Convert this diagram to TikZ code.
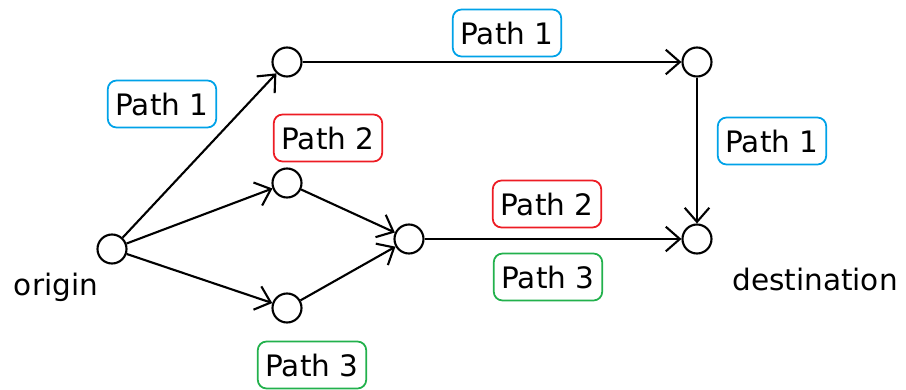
\documentclass[tikz,border=0pt]{standalone}
\usepackage{fontspec}
\setmainfont{DejaVu Sans}
\usetikzlibrary{arrows.meta}
\definecolor{bleu}{RGB}{0,162,232}
\definecolor{rouge}{RGB}{237,28,36}
\definecolor{vert}{RGB}{34,177,76}
\begin{document}
\begin{tikzpicture}[
	noeud/.style={draw, circle, line width=0.6pt, minimum size=0.29cm, inner sep=0pt},
	fleche/.style={line width=0.6pt, -{Straight Barb[length=4pt,width=7pt]}},
	etiq/.style={draw, rounded corners=2.5pt, line width=0.5pt, minimum height=0.47cm, inner xsep=2.2pt, font=\fontsize{8.4}{10}\selectfont},
	]
	\useasboundingbox (0,0) rectangle (9.06,3.89);
	%les noeuds
	\node[noeud] (origin) at (1.12,1.40) {};
	\node[noeud] (haut) at (2.87,3.27) {};
	\node[noeud] (milieu) at (2.87,2.06) {};
	\node[noeud] (bas) at (2.87,0.81) {};
	\node[noeud] (centre) at (4.09,1.50) {};
	\node[noeud] (coin) at (6.97,3.27) {};
	\node[noeud] (dest) at (6.97,1.50) {};
	\node[font=\fontsize{8.4}{10}\selectfont] (torigin) at (0.56,1.02) {origin};
	\node[font=\fontsize{8.4}{10}\selectfont] (tdest) at (8.15,1.10) {destination};
	%les fleches
	\draw[fleche] (origin) -- (haut);
	\draw[fleche] (origin) -- (milieu);
	\draw[fleche] (origin) -- (bas);
	\draw[fleche] (milieu) -- (centre);
	\draw[fleche] (bas) -- (centre);
	\draw[fleche] (haut) -- (coin);
	\draw[fleche] (coin) -- (dest);
	\draw[fleche] (centre) -- (dest);
	%les chemins
	\node[etiq, bleu] (p1a) at (1.62,2.85) {\textcolor{black}{Path 1}};
	\node[etiq, bleu] (p1b) at (5.07,3.56) {\textcolor{black}{Path 1}};
	\node[etiq, bleu] (p1c) at (7.72,2.48) {\textcolor{black}{Path 1}};
	\node[etiq, rouge] (p2a) at (3.28,2.51) {\textcolor{black}{Path 2}};
	\node[etiq, rouge] (p2b) at (5.47,1.85) {\textcolor{black}{Path 2}};
	\node[etiq, vert] (p3b) at (5.48,1.12) {\textcolor{black}{Path 3}};
	\node[etiq, vert] (p3a) at (3.12,0.24) {\textcolor{black}{Path 3}};
\end{tikzpicture}
\end{document}
